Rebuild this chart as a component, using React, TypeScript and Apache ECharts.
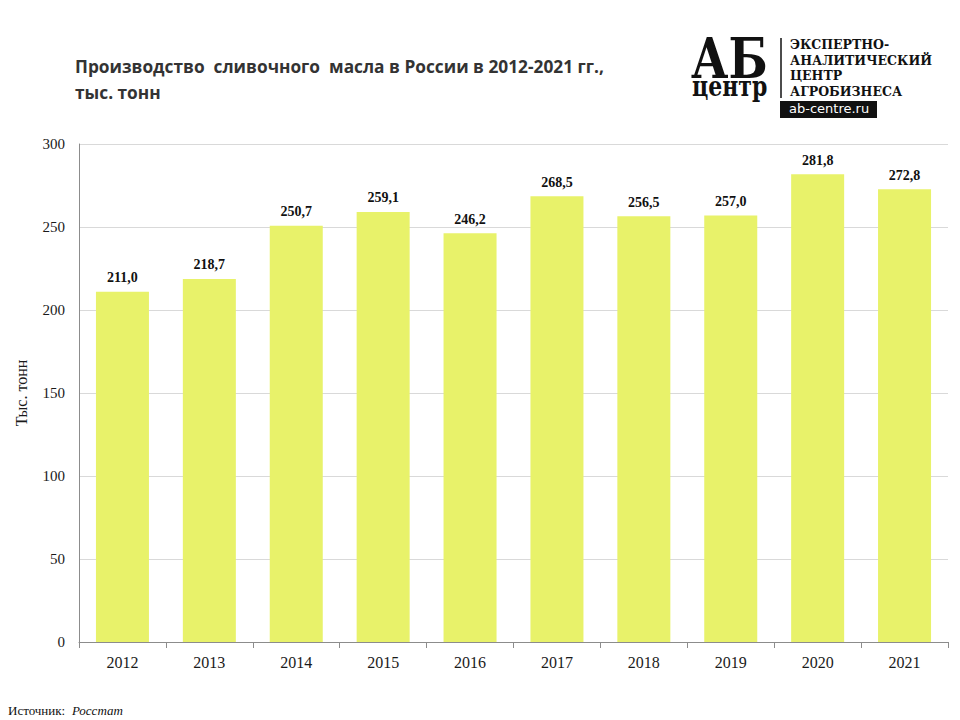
import React, { useEffect, useRef } from "react";
import * as echarts from "echarts";

const years = ["2012", "2013", "2014", "2015", "2016", "2017", "2018", "2019", "2020", "2021"];
const production = [211.0, 218.7, 250.7, 259.1, 246.2, 268.5, 256.5, 257.0, 281.8, 272.8];
const titleLines = ["Производство  сливочного  масла в России в 2012-2021 гг.,", "тыс. тонн"];
const yAxisName = "Тыс. тонн";

export default function App() {
  const ref = useRef<HTMLDivElement>(null);
  useEffect(() => {
    if (!ref.current) return;
    const chart = echarts.init(ref.current, null, { renderer: "svg" });
    const serif = "'Liberation Serif', 'DejaVu Serif', serif";
    chart.setOption({
      animation: false,
      backgroundColor: "#ffffff",
      grid: { left: 79, right: 12, top: 144, bottom: 78 },
      xAxis: {
        type: "category",
        data: years,
        axisLine: { lineStyle: { color: "#8c8c8c", width: 1 } },
        axisTick: { show: true, length: 6, lineStyle: { color: "#8c8c8c" } },
        axisLabel: { color: "#1a1a1a", fontFamily: serif, fontSize: 16, margin: 12 },
      },
      yAxis: {
        type: "value",
        min: 0,
        max: 300,
        interval: 50,
        name: yAxisName,
        nameLocation: "middle",
        nameGap: 50,
        nameRotate: 90,
        nameTextStyle: { color: "#1a1a1a", fontFamily: serif, fontSize: 16 },
        axisLine: { show: true, lineStyle: { color: "#8c8c8c", width: 1 } },
        axisTick: { show: false },
        splitLine: { lineStyle: { color: "#d9d9d9", width: 1 } },
        axisLabel: { color: "#1a1a1a", fontFamily: serif, fontSize: 15, margin: 14 },
      },
      series: [
        {
          type: "bar",
          data: production,
          barWidth: "61%",
          itemStyle: { color: "#e8f26a" },
          label: {
            show: true,
            position: "top",
            distance: 7,
            formatter: (p: any) => p.value.toFixed(1).replace(".", ","),
            fontFamily: serif,
            fontWeight: "bold",
            fontSize: 14,
            color: "#111",
          },
        },
      ],
      graphic: [
        {
          type: "text",
          left: 75,
          top: 53,
          style: {
            text: titleLines.join("\n"),
            font: "bold 17.3px 'Open Sans', 'Noto Sans', sans-serif",
            fill: "#333",
            lineHeight: 26,
          },
        },
        // logo
        {
          type: "text",
          x: 691,
          y: 58,
          scaleY: 1.2,
          style: {
            text: "АБ",
            font: "bold 46px 'DejaVu Serif', serif",
            fill: "#111",
            lineHeight: 34,
            verticalAlign: "middle",
          },
        },
        {
          type: "text",
          x: 692,
          y: 86,
          scaleY: 1.3,
          style: {
            text: "центр",
            font: "bold 22px 'DejaVu Serif', serif",
            fill: "#111",
            lineHeight: 12,
            verticalAlign: "middle",
          },
        },
        {
          type: "line",
          shape: { x1: 781, y1: 38, x2: 781, y2: 98 },
          style: { stroke: "#111", lineWidth: 1.5 },
        },
        {
          type: "text",
          left: 790,
          top: 37,
          style: {
            text: "ЭКСПЕРТНО-\nАНАЛИТИЧЕСКИЙ\nЦЕНТР\nАГРОБИЗНЕСА",
            font: "bold 12.5px 'DejaVu Serif', serif",
            fill: "#111",
            lineHeight: 15.5,
          },
        },
        {
          type: "rect",
          shape: { x: 780, y: 101, width: 97, height: 17 },
          style: { fill: "#111" },
        },
        {
          type: "text",
          left: 789,
          top: 102,
          style: { text: "ab-centre.ru", font: "13px 'DejaVu Sans', sans-serif", fill: "#fff" },
        },
        {
          type: "text",
          left: 8,
          top: 704,
          style: {
            rich: {
              a: { font: "13px 'Liberation Serif', serif", fill: "#111" },
              b: { font: "italic 13px 'Liberation Serif', serif", fill: "#111" },
            },
            text: "{a|Источник:}  {b|Росстат}",
          },
        },
      ],
    });
    return () => chart.dispose();
  }, []);
  return <div ref={ref} style={{ width: 960, height: 720, position: "absolute", left: 0, top: 0 }} />;
}
